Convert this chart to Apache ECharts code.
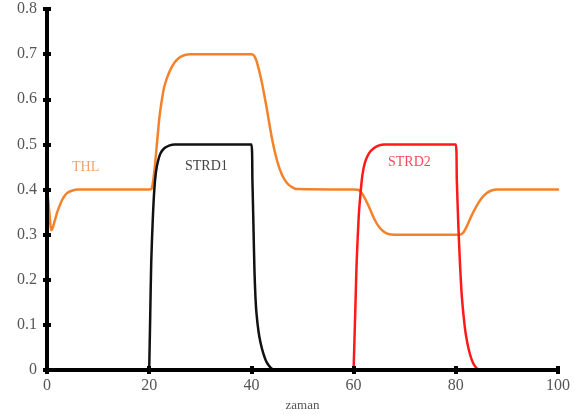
<!DOCTYPE html>
<html>
<head>
<meta charset="utf-8">
<script src="https://cdn.jsdelivr.net/npm/echarts@6/dist/echarts.min.js"></script>
<style>html,body{margin:0;padding:0;background:#fff}#c{width:579px;height:417px}</style>
</head>
<body>
<div id="c"></div>
<script>
// ---- data ----
var xTicks = [0, 20, 40, 60, 80, 100];
var xTickLabels = ['0', '20', '40', '60', '80', '100'];
var yTicks = [0, 0.1, 0.2, 0.3, 0.4, 0.5, 0.6, 0.7, 0.8];
var yTickLabels = ['0', '0.1', '0.2', '0.3', '0.4', '0.5', '0.6', '0.7', '0.8'];
var xAxisName = 'zaman';

var thlX = [0, 0.3, 0.6, 0.8, 1.0, 1.5, 2, 2.5, 3, 3.5, 4, 5, 6, 7, 20, 20.5, 21, 21.5, 22, 22.5, 23, 24, 25, 26, 27, 28, 40, 40.5, 41, 42, 43, 44, 45, 46, 47, 48, 49, 60, 61, 62, 63, 64, 65, 66, 67, 68, 80.8, 81.5, 82, 83, 84, 85, 86, 87, 88, 89, 100];
var thlY = [0.40, 0.37, 0.33, 0.31, 0.312, 0.33, 0.35, 0.365, 0.378, 0.387, 0.393, 0.398, 0.4, 0.4, 0.4, 0.402, 0.44, 0.50, 0.56, 0.60, 0.63, 0.662, 0.682, 0.693, 0.698, 0.7, 0.7, 0.697, 0.685, 0.64, 0.58, 0.515, 0.465, 0.432, 0.414, 0.405, 0.401, 0.4, 0.399, 0.385, 0.362, 0.336, 0.317, 0.306, 0.301, 0.3, 0.3, 0.305, 0.315, 0.34, 0.362, 0.38, 0.392, 0.398, 0.4, 0.4, 0.4];

var strd1X = [20, 20.2, 20.4, 20.7, 21, 21.3, 21.7, 22.2, 23, 24, 25, 40, 40.2, 40.4, 40.6, 40.8, 41, 41.4, 41.8, 42.3, 42.8, 43.4, 44, 44.5];
var strd1Y = [0, 0.12, 0.24, 0.334, 0.40, 0.437, 0.462, 0.48, 0.492, 0.498, 0.5, 0.5, 0.42, 0.32, 0.22, 0.16, 0.125, 0.085, 0.06, 0.038, 0.022, 0.01, 0.003, 0];

var strd2X = [60, 60.2, 60.4, 60.6, 61, 61.3, 61.7, 62.2, 63, 64, 65, 66, 80, 80.2, 80.5, 80.8, 81.2, 81.8, 82.3, 82.8, 83.4, 84, 84.6];
var strd2Y = [0, 0.08, 0.16, 0.24, 0.34, 0.385, 0.43, 0.459, 0.48, 0.492, 0.498, 0.5, 0.5, 0.42, 0.32, 0.24, 0.16, 0.092, 0.058, 0.034, 0.015, 0.005, 0];

var seriesNames = ['THL', 'STRD1', 'STRD2'];

// ---- build ----
function pairs(xs, ys) { return xs.map(function (x, i) { return [x, ys[i]]; }); }
function lblX(v) { var i = xTicks.indexOf(v); return i >= 0 ? xTickLabels[i] : ''; }
function lblY(v) {
  for (var i = 0; i < yTicks.length; i++) if (Math.abs(yTicks[i] - v) < 1e-6) return yTickLabels[i];
  return '';
}

var serif = '"Liberation Serif","Times New Roman",serif';
var chart = echarts.init(document.getElementById('c'), null, { renderer: 'canvas' });

var axisLine = { show: true, lineStyle: { color: '#000', width: 4 } };
var tick = { show: true, inside: true, length: 4, lineStyle: { color: '#000', width: 4 } };

var option = {
  backgroundColor: '#fff',
  animation: false,
  grid: { left: 47, right: 21, top: 9, bottom: 45, containLabel: false },
  xAxis: [
    { type: 'value', min: 0, max: 100, interval: 20, position: 'bottom', z: 5,
      axisLine: axisLine, axisTick: tick, splitLine: { show: false },
      axisLabel: { formatter: lblX, color: '#555', fontFamily: serif, fontSize: 16, margin: 8 },
      name: xAxisName, nameLocation: 'middle', nameGap: 28,
      nameTextStyle: { color: '#555', fontFamily: serif, fontSize: 13 } },
    { type: 'value', min: 0, max: 100, interval: 20, position: 'top', z: 5,
      axisLine: axisLine, axisTick: tick, splitLine: { show: false }, axisLabel: { show: false } }
  ],
  yAxis: [
    { type: 'value', min: 0, max: 0.8, interval: 0.1, position: 'left', z: 5,
      axisLine: axisLine, axisTick: tick, splitLine: { show: false },
      axisLabel: { formatter: lblY, color: '#555', fontFamily: serif, fontSize: 16, margin: 10 } },
    { type: 'value', min: 0, max: 0.8, interval: 0.1, position: 'right', z: 5,
      axisLine: axisLine, axisTick: tick, splitLine: { show: false }, axisLabel: { show: false } }
  ],
  series: [
    { name: seriesNames[0], type: 'line', data: pairs(thlX, thlY), showSymbol: false,
      smooth: 0.25, lineStyle: { color: '#f5822a', width: 2.5, join: 'round', cap: 'round' } },
    { name: seriesNames[1], type: 'line', data: pairs(strd1X, strd1Y), showSymbol: false,
      smooth: 0.25, lineStyle: { color: '#111', width: 2.5, join: 'round', cap: 'round' } },
    { name: seriesNames[2], type: 'line', data: pairs(strd2X, strd2Y), showSymbol: false,
      smooth: 0.25, lineStyle: { color: '#ff1a1a', width: 2.5, join: 'round', cap: 'round' } }
  ],
  graphic: [
    { type: 'text', left: 72, top: 160, z: 10,
      style: { text: seriesNames[0], fill: '#f5a06a', font: '14px ' + serif } },
    { type: 'text', left: 185, top: 159, z: 10,
      style: { text: seriesNames[1], fill: '#444', font: '14px ' + serif } },
    { type: 'text', left: 388, top: 155, z: 10,
      style: { text: seriesNames[2], fill: '#f24a5a', font: '14px ' + serif } }
  ]
};
chart.setOption(option);
</script>
</body>
</html>
